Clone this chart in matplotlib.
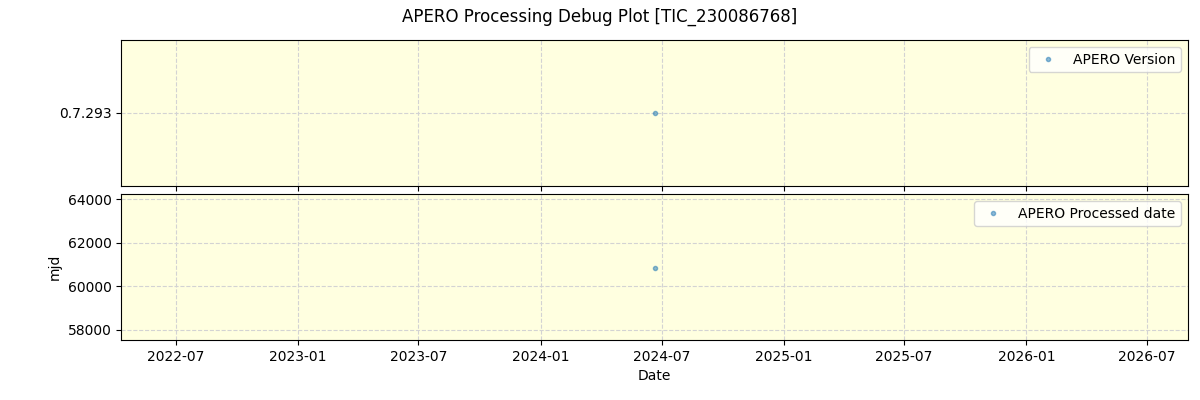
import matplotlib
matplotlib.use("Agg")
import matplotlib.pyplot as plt
import matplotlib.dates as mdates
import pandas as pd

# data
obs_dates = pd.to_datetime(["2024-06-21"])
apero_version = ["0.7.293"]
processed_mjd = [60860]

fig, (ax1, ax2) = plt.subplots(2, 1, figsize=(12, 4), dpi=100, sharex=True)
fig.subplots_adjust(left=0.101, right=0.99, top=0.9, bottom=0.15, hspace=0.055)
fig.suptitle("APERO Processing Debug Plot [TIC_230086768]")

ax1.plot(obs_dates, apero_version, ".", alpha=0.5, label="APERO Version")
ax1.set_ylim(-1, 1)
ax2.plot(obs_dates, processed_mjd, ".", alpha=0.5, label="APERO Processed date")
ax2.set_ylim(57540, 64230)
ax2.set_ylabel("mjd")
ax2.set_xlabel("Date")

for ax in (ax1, ax2):
    ax.set_facecolor("lightyellow")
    ax.grid(True, linestyle="--", color="lightgray")
    ax.legend(loc="upper right")

ax2.set_xlim(pd.Timestamp("2022-04-10"), pd.Timestamp("2026-09-01"))
ax2.xaxis.set_major_locator(mdates.MonthLocator(bymonth=[1, 7]))
ax2.xaxis.set_major_formatter(mdates.DateFormatter("%Y-%m"))

fig.savefig("out.png")
